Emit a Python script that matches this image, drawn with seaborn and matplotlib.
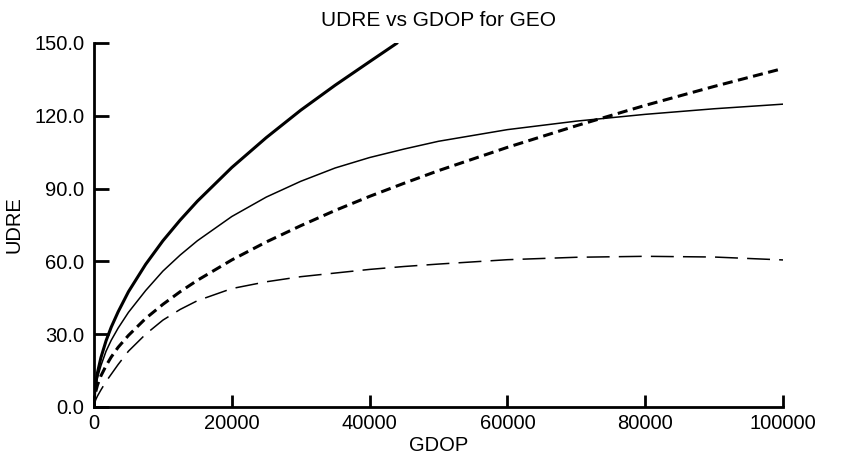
import matplotlib
matplotlib.use("Agg")
import matplotlib.pyplot as plt
import pandas as pd
import seaborn as sns

# GDOP sample points
gdop = [0, 100, 250, 500, 1000, 1750, 2500, 3500, 5000, 7500, 10000, 12500, 15000,
        20000, 25000, 30000, 35000, 40000, 45000, 50000, 60000, 70000, 80000,
        90000, 100000]
gdop_short = [0, 100, 250, 500, 1000, 1750, 2500, 3500, 5000, 7500, 10000, 12500,
              15000, 20000, 25000, 30000, 35000, 40000, 44000]

# UDRE series
udre_heavy = [0, 6.0, 9.8, 14.1, 20.3, 27.3, 32.9, 39.2, 47.5, 58.8, 68.5, 77.0,
              84.8, 98.7, 111.0, 122.3, 132.6, 142.3, 150.0]
udre_thin = [0, 5.0, 8.0, 12.0, 17.0, 23.0, 27.5, 32.5, 39.0, 48.0, 56.0, 62.6,
             68.5, 78.5, 86.5, 93.0, 98.5, 102.8, 106.3, 109.5, 114.3, 117.8,
             120.6, 122.9, 124.8]
udre_short_dash = [0, 4.0, 6.3, 9.0, 12.8, 17.0, 20.6, 24.6, 29.5, 36.5, 42.3,
                   47.5, 52.2, 60.6, 68.0, 74.7, 81.0, 86.8, 92.2, 97.4, 107.0,
                   115.9, 124.3, 132.1, 139.5]
udre_long_dash = [0, 1.5, 3.0, 4.5, 7.0, 10.5, 13.5, 17.5, 23.0, 30.0, 35.8, 40.2,
                  43.8, 48.8, 51.6, 53.7, 55.2, 56.7, 57.9, 58.9, 60.7, 61.7,
                  62.1, 61.8, 60.6]

x_ticks = [0, 20000, 40000, 60000, 80000, 100000]
y_ticks = [0, 30, 60, 90, 120, 150]

sns.set_style("ticks")
plt.rcParams["font.family"] = ["Liberation Sans", "DejaVu Sans"]
plt.rcParams["font.size"] = 14.5
plt.rcParams["text.color"] = "black"
plt.rcParams["axes.labelcolor"] = "black"
plt.rcParams["xtick.color"] = "black"
plt.rcParams["ytick.color"] = "black"
plt.rcParams["xtick.direction"] = "in"
plt.rcParams["ytick.direction"] = "in"

fig = plt.figure(figsize=(8.46, 4.58), dpi=100)
ax = fig.add_axes([94 / 846, 1 - 407 / 458, (783 - 94) / 846, (407 - 43) / 458])

series = [
    (gdop_short, udre_heavy, 2.2, None),
    (gdop, udre_thin, 1.1, None),
    (gdop, udre_short_dash, 2.2, (3.3, 1.8)),
    (gdop, udre_long_dash, 1.1, (15, 6)),
]
for xs, ys, lw, dash in series:
    df = pd.DataFrame({"GDOP": xs, "UDRE": ys})
    sns.lineplot(data=df, x="GDOP", y="UDRE", ax=ax, color="black",
                 linewidth=lw, sort=False)
    if dash is not None:
        ax.lines[-1].set_dashes(dash)

ax.set_xlim(0, 100000)
ax.set_ylim(0, 150)
ax.set_xticks(x_ticks)
ax.set_xticklabels([str(v) for v in x_ticks])
ax.set_yticks(y_ticks)
ax.set_yticklabels([f"{v:.1f}" for v in y_ticks])

for side in ("top", "right"):
    ax.spines[side].set_visible(False)
for side in ("left", "bottom"):
    ax.spines[side].set_linewidth(2.0)
    ax.spines[side].set_color("black")

ax.tick_params(axis="y", which="major", direction="in", length=11, width=2.0,
               pad=7, labelsize=14.5)
ax.tick_params(axis="x", which="major", direction="in", length=9, width=2.0,
               pad=5, labelsize=14.5)

ax.set_title("UDRE vs GDOP for GEO", fontsize=15, pad=12, color="black")
ax.set_xlabel("GDOP", fontsize=14.5, labelpad=2, color="black")
ax.set_ylabel("UDRE", fontsize=14.5, labelpad=8, color="black")

fig.savefig("out.png", dpi=100)
